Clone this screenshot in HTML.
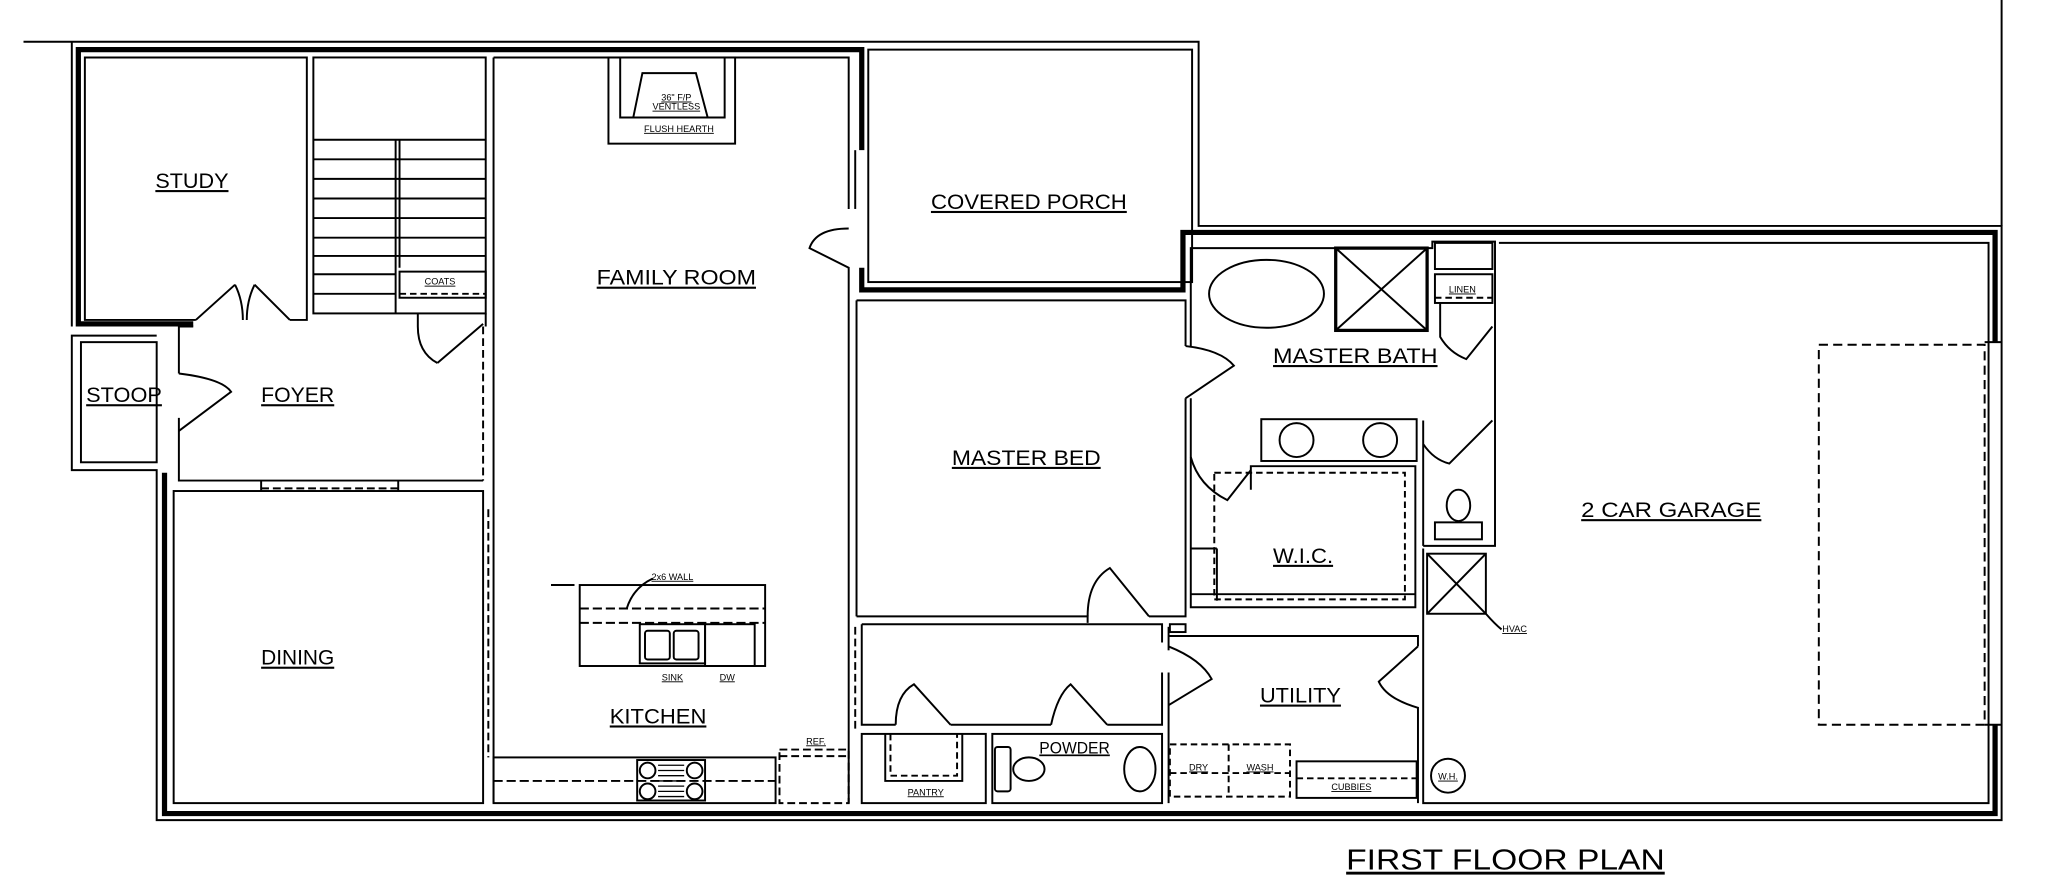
<!DOCTYPE html>
<html><head><meta charset="utf-8"><style>
html,body{margin:0;padding:0;background:#fff;}
svg{display:block;}
text{font-family:"Liberation Sans",sans-serif;fill:#000;}
</style></head><body>
<svg width="2046" height="888" viewBox="0 0 1567 680" preserveAspectRatio="none" xmlns="http://www.w3.org/2000/svg">
<g fill="none" stroke="#000" stroke-width="1.5">
<polyline points="18,32 918,32 918,173 1533,173 1533,628 120,628 120,360 55,360 55,257 120,257"/>
<line x1="55" y1="32" x2="55" y2="250"/>
<line x1="1533" y1="0" x2="1533" y2="173"/>
<polyline stroke-width="4" points="60,250 60,38 660,38 660,115"/>
<polyline stroke-width="4" points="660,205 660,222 906,222 906,178 1528,178 1528,262"/>
<polyline stroke-width="4" points="1528,555 1528,623 126,623 126,362"/>
<line x1="60" y1="248" x2="148" y2="248" stroke-width="4"/>
<rect x="665" y="38" width="248" height="178"/>
<line x1="655" y1="115" x2="655" y2="160"/>
<polyline points="150,245 65,245 65,44 235,44 235,245 222,245"/>
<path d="M150,245 L180,218 M222,245 L195,218 M180,218 Q186,230 186,245 M195,218 Q189,230 189,245"/>
<rect x="240" y="44" width="132" height="196"/>
<line x1="303" y1="107" x2="303" y2="240"/><line x1="306" y1="107" x2="306" y2="205"/>
<g>
<line x1="240" y1="107" x2="372" y2="107"/><line x1="240" y1="122" x2="372" y2="122"/>
<line x1="240" y1="137" x2="372" y2="137"/><line x1="240" y1="152" x2="372" y2="152"/>
<line x1="240" y1="167" x2="372" y2="167"/><line x1="240" y1="182" x2="372" y2="182"/>
<line x1="240" y1="196" x2="372" y2="196"/><line x1="240" y1="210" x2="303" y2="210"/>
<line x1="240" y1="225" x2="303" y2="225"/>
</g>
<rect x="306" y="208" width="66" height="20"/>
<line x1="306" y1="225" x2="372" y2="225" stroke-dasharray="5,3"/>
<path d="M320,240 L320,250 M372,240 L372,250 M335,278 L370,248 M320,250 Q320,270 335,278"/>
<rect x="62" y="262" width="58" height="92"/>
<polyline points="137,286 137,250 148,250"/>
<polyline points="137,320 137,368 370,368"/>
<line x1="370" y1="250" x2="370" y2="368" stroke-dasharray="6,3"/>
<path d="M137,286 Q170,290 177,300 L137,330"/>
<line x1="200" y1="368" x2="200" y2="376"/><line x1="305" y1="368" x2="305" y2="376"/>
<line x1="200" y1="374" x2="305" y2="374" stroke-dasharray="6,3"/>
<rect x="133" y="376" width="237" height="239"/>
<line x1="374" y1="390" x2="374" y2="580" stroke-dasharray="6,3"/>
<polyline points="378,44 650,44 650,160"/>
<line x1="378" y1="44" x2="378" y2="615"/>
<path d="M650,175 Q625,175 620,190 L650,205 L650,615"/>
<rect x="466" y="44" width="97" height="66"/>
<polyline points="475,44 475,90 555,90 555,44"/>
<polyline points="485,90 492,56 533,56 542,90"/>
<rect x="444" y="448" width="142" height="62"/>
<line x1="444" y1="466" x2="586" y2="466" stroke-dasharray="7,3"/>
<line x1="444" y1="477" x2="586" y2="477" stroke-dasharray="7,3"/>
<path d="M480,466 Q485,450 500,443"/>
<rect x="490" y="478" width="50" height="30"/>
<rect x="494" y="483" width="19" height="22" rx="2"/><rect x="516" y="483" width="19" height="22" rx="2"/>
<rect x="540" y="478" width="38" height="32"/>
<line x1="422" y1="448" x2="440" y2="448"/>
<rect x="378" y="580" width="216" height="35"/>
<line x1="378" y1="598" x2="594" y2="598" stroke-dasharray="7,3"/>
<rect x="488" y="582" width="52" height="31"/>
<circle cx="496" cy="590" r="6"/><circle cx="532" cy="590" r="6"/>
<circle cx="496" cy="606" r="6"/><circle cx="532" cy="606" r="6"/>
<g stroke-width="1"><line x1="504" y1="586" x2="524" y2="586"/><line x1="504" y1="590" x2="524" y2="590"/><line x1="504" y1="594" x2="524" y2="594"/><line x1="504" y1="598" x2="524" y2="598"/><line x1="504" y1="602" x2="524" y2="602"/><line x1="504" y1="606" x2="524" y2="606"/><line x1="504" y1="610" x2="524" y2="610"/></g>
<rect x="597" y="574" width="53" height="41" stroke-dasharray="6,3"/>
<line x1="597" y1="579" x2="650" y2="579" stroke-dasharray="6,3"/>
<polyline points="656,230 908,230 908,265"/>
<line x1="656" y1="230" x2="656" y2="472"/>
<polyline points="656,472 833,472 833,477"/>
<polyline points="880,472 908,472 908,305"/>
<path d="M908,265 Q935,268 945,280 L908,305 M833,472 Q833,445 850,435 L880,472"/>
<polyline points="660,478 660,555 686,555"/>
<line x1="655" y1="480" x2="655" y2="560" stroke-dasharray="6,3"/>
<polyline points="660,478 890,478 890,492"/>
<polyline points="728,555 805,555"/>
<polyline points="848,555 890,555 890,515"/>
<path d="M686,555 Q686,532 700,524 L728,555 M805,555 Q810,532 820,524 L848,555"/>
<rect x="660" y="562" width="95" height="53"/>
<polyline points="678,562 678,598 737,598 737,562"/>
<polyline points="682,562 682,594 733,594 733,562" stroke-dasharray="5,3"/>
<rect x="760" y="562" width="130" height="53"/>
<rect x="762" y="572" width="12" height="34" rx="2"/><ellipse cx="788" cy="589" rx="12" ry="9"/>
<ellipse cx="873" cy="589" rx="12" ry="17"/>
<polyline points="912,265 912,190 1097,190 1097,185 1145,185 1145,418 1090,418"/>
<polyline points="912,305 912,358"/>
<ellipse cx="970" cy="225" rx="44" ry="26"/>
<rect x="1023" y="190" width="70" height="63" stroke-width="2.5"/>
<line x1="1023" y1="190" x2="1093" y2="253"/><line x1="1093" y1="190" x2="1023" y2="253"/>
<rect x="1099" y="186" width="44" height="20"/>
<rect x="1099" y="210" width="44" height="22"/>
<line x1="1099" y1="228" x2="1143" y2="228" stroke-dasharray="5,3"/>
<path d="M1103,232 L1103,258 Q1110,270 1123,275 L1143,250"/>
<rect x="966" y="321" width="119" height="32"/>
<circle cx="993" cy="337" r="13"/><circle cx="1057" cy="337" r="13"/>
<path d="M1090,322 L1090,418 M1090,340 Q1098,352 1110,355 L1143,322"/>
<rect x="1099" y="400" width="36" height="13"/><ellipse cx="1117" cy="387" rx="9" ry="12"/>
<polyline points="912,358 912,465 1084,465 1084,357 958,357 958,375"/>
<path d="M912,350 Q918,372 940,383 L958,360"/>
<rect x="930" y="362" width="146" height="97" stroke-dasharray="5,3"/>
<line x1="912" y1="455" x2="1084" y2="455"/>
<line x1="912" y1="420" x2="932" y2="420"/><line x1="932" y1="420" x2="932" y2="460"/>
<polyline points="895,515 895,615"/>
<line x1="895" y1="480" x2="895" y2="498"/>
<rect x="896" y="478" width="12" height="6"/>
<polyline points="895,487 1086,487 1086,495"/>
<path d="M895,495 Q920,505 928,520 L895,540 M1086,495 L1056,522 Q1062,535 1086,542 L1086,615"/>
<rect x="896" y="570" width="92" height="40" stroke-dasharray="5,3"/>
<line x1="941" y1="570" x2="941" y2="610" stroke-dasharray="5,3"/>
<line x1="896" y1="592" x2="988" y2="592" stroke-dasharray="5,3"/>
<rect x="993" y="583" width="92" height="28"/>
<line x1="993" y1="596" x2="1085" y2="596" stroke-dasharray="5,3"/>
<polyline points="1148,186 1523,186 1523,615 1090,615 1090,420"/>
<rect x="1093" y="424" width="45" height="46"/>
<line x1="1093" y1="424" x2="1138" y2="470"/><line x1="1138" y1="424" x2="1093" y2="470"/>
<path d="M1138,470 Q1145,478 1150,482"/>
<rect x="1393" y="264" width="127" height="291" stroke-dasharray="7,4"/>
<line x1="1520" y1="262" x2="1533" y2="262"/><line x1="1520" y1="555" x2="1533" y2="555"/>
<circle cx="1109" cy="594" r="13"/>
</g>
<g font-size="16" text-decoration="underline" text-anchor="middle">
<text x="147" y="144" textLength="56" lengthAdjust="spacingAndGlyphs">STUDY</text>
<text x="788" y="160" textLength="150" lengthAdjust="spacingAndGlyphs">COVERED PORCH</text>
<text x="518" y="218" textLength="122" lengthAdjust="spacingAndGlyphs">FAMILY ROOM</text>
<text x="1038" y="278" textLength="126" lengthAdjust="spacingAndGlyphs">MASTER BATH</text>
<text x="95" y="308" textLength="58" lengthAdjust="spacingAndGlyphs">STOOP</text>
<text x="228" y="308" textLength="56" lengthAdjust="spacingAndGlyphs">FOYER</text>
<text x="786" y="356" textLength="114" lengthAdjust="spacingAndGlyphs">MASTER BED</text>
<text x="1280" y="396" textLength="138" lengthAdjust="spacingAndGlyphs">2 CAR GARAGE</text>
<text x="998" y="431" textLength="46" lengthAdjust="spacingAndGlyphs">W.I.C.</text>
<text x="228" y="509" textLength="56" lengthAdjust="spacingAndGlyphs">DINING</text>
<text x="996" y="538" textLength="62" lengthAdjust="spacingAndGlyphs">UTILITY</text>
<text x="504" y="554" textLength="74" lengthAdjust="spacingAndGlyphs">KITCHEN</text>
<text x="823" y="577" font-size="13" textLength="54" lengthAdjust="spacingAndGlyphs">POWDER</text>
<text x="1153" y="666" font-size="22" textLength="244" lengthAdjust="spacingAndGlyphs">FIRST FLOOR PLAN</text>
</g>
<g font-size="7" text-anchor="middle" text-decoration="underline">
<text x="337" y="218">COATS</text>
<text x="518" y="77">36" F/P</text>
<text x="518" y="84">VENTLESS</text>
<text x="520" y="101">FLUSH HEARTH</text>
<text x="1120" y="224">LINEN</text>
<text x="515" y="444" text-decoration="none">2x6 WALL</text>
<text x="515" y="521">SINK</text>
<text x="557" y="521">DW</text>
<text x="625" y="570">REF.</text>
<text x="709" y="609">PANTRY</text>
<text x="1035" y="605">CUBBIES</text>
<text x="1109" y="597" text-decoration="none">W.H.</text>
<text x="1160" y="484" text-decoration="none">HVAC</text>
<text x="918" y="590" text-decoration="none">DRY</text>
<text x="965" y="590" text-decoration="none">WASH</text>
</g>
</svg>
</body></html>
